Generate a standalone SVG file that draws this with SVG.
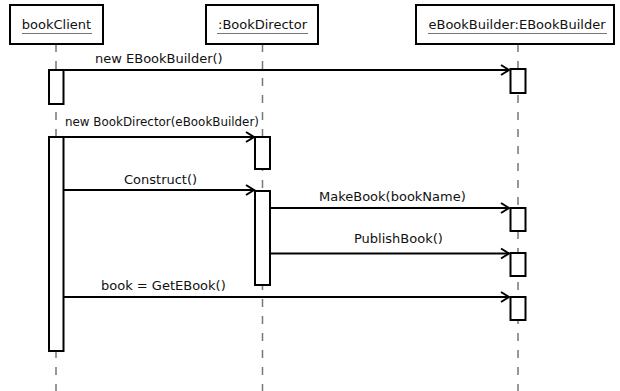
<svg xmlns="http://www.w3.org/2000/svg" width="620" height="391" viewBox="0 0 620 391">
<style>
.hdr{fill:#fff;stroke:#000;stroke-width:2}
.act{fill:#fff;stroke:#000;stroke-width:2}
.life{stroke:#777;stroke-width:1.5;stroke-dasharray:8 9;fill:none}
.msg{stroke:#000;stroke-width:2;fill:none}
.head{stroke:#000;stroke-width:2;fill:none}
.t{font-family:"DejaVu Sans",sans-serif;font-size:13px;fill:#111}
.ts{font-family:"DejaVu Sans",sans-serif;font-size:11.9px;fill:#111}
.ul{stroke:#777;stroke-width:1.2}
</style>
<g id="lifelines">
<line class="life" x1="56" y1="44" x2="56" y2="391"/>
<line class="life" x1="262.5" y1="44" x2="262.5" y2="391"/>
<line class="life" x1="518" y1="44" x2="518" y2="391"/>
</g>
<g id="bookClient">
<rect class="hdr" x="10" y="5" width="93" height="39"/>
<text class="t" x="56.5" y="29" text-anchor="middle">bookClient</text>
<line class="ul" x1="22" y1="33.5" x2="92" y2="33.5"/>
<rect class="act" x="49" y="70" width="14.5" height="34"/>
<rect class="act" x="49" y="137" width="14.5" height="214"/>
</g>
<g id="bookDirector">
<rect class="hdr" x="206" y="5" width="112" height="39"/>
<text class="t" x="262.5" y="29" text-anchor="middle">:BookDirector</text>
<line class="ul" x1="217" y1="33.5" x2="308" y2="33.5"/>
<rect class="act" x="255" y="137" width="15" height="32"/>
<rect class="act" x="255" y="191" width="15" height="94"/>
</g>
<g id="eBookBuilder">
<rect class="hdr" x="416" y="5" width="198" height="39"/>
<text class="t" x="517" y="29" text-anchor="middle">eBookBuilder:EBookBuilder</text>
<line class="ul" x1="428" y1="33.5" x2="607" y2="33.5"/>
<rect class="act" x="510.5" y="69" width="15" height="24"/>
<rect class="act" x="510.5" y="208" width="15" height="23"/>
<rect class="act" x="510.5" y="253" width="15" height="23"/>
<rect class="act" x="510.5" y="297" width="15" height="23"/>
</g>
<g id="connectors">
<line class="msg" x1="63.5" y1="70" x2="509" y2="70"/>
<polyline class="head" points="501,65 509,70 501,75"/>
<text class="t" x="95" y="63">new EBookBuilder()</text>
<line class="msg" x1="63.5" y1="137" x2="254" y2="137"/>
<polyline class="head" points="246,132 254,137 246,142"/>
<text class="ts" x="65" y="126">new BookDirector(eBookBuilder)</text>
<line class="msg" x1="63.5" y1="190" x2="254" y2="190"/>
<polyline class="head" points="246,185 254,190 246,195"/>
<text class="t" x="124" y="184">Construct()</text>
<line class="msg" x1="270" y1="208" x2="509" y2="208"/>
<polyline class="head" points="501,203 509,208 501,213"/>
<text class="t" x="319" y="201">MakeBook(bookName)</text>
<line class="msg" x1="270" y1="253.5" x2="509" y2="253.5"/>
<polyline class="head" points="501,248.5 509,253.5 501,258.5"/>
<text class="t" x="354" y="243">PublishBook()</text>
<line class="msg" x1="63.5" y1="297" x2="509" y2="297"/>
<polyline class="head" points="501,292 509,297 501,302"/>
<text class="t" x="101" y="290">book = GetEBook()</text>
</g>
</svg>
